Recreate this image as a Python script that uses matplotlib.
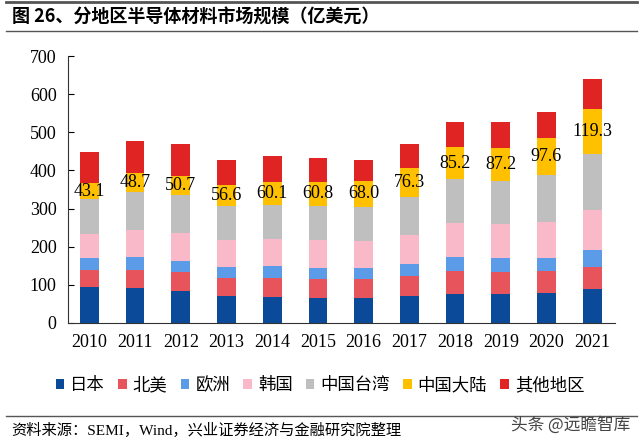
import matplotlib.pyplot as plt
import numpy as np

plt.rcParams['font.family'] = ['Liberation Serif', 'Noto Sans CJK SC']

years = ['2010', '2011', '2012', '2013', '2014', '2015', '2016', '2017', '2018', '2019', '2020', '2021']
regions = ['日本', '北美', '欧洲', '韩国', '中国台湾', '中国大陆', '其他地区']
colors = ['#0b4a98', '#e8545c', '#5b9be8', '#f9b9c9', '#bfbfbf', '#ffc000', '#e02424']

japan  = [94, 91, 84, 70, 68, 65, 66, 70, 77, 75, 79, 88]
na     = [44, 49, 49, 47, 51, 50, 49, 52, 58, 58, 56, 59]
europe = [33, 33, 30, 30, 30, 30, 30, 33, 38, 38, 36, 45]
korea  = [63, 72, 73, 70, 71, 72, 70, 75, 89, 89, 93, 105]
taiwan = [90, 99, 100, 89, 90, 91, 90, 100, 115, 112, 123, 146]
china  = [43.1, 48.7, 50.7, 56.6, 60.1, 60.8, 68.0, 76.3, 85.2, 87.2, 97.6, 119.3]
other  = [81, 85, 84, 66, 69, 63, 54, 63, 65, 68, 68, 78]

series = [japan, na, europe, korea, taiwan, china, other]

fig = plt.figure(figsize=(6.4, 4.46), dpi=100)
ax = fig.add_axes([0.106, 0.276, 0.855, 0.598])

x = np.arange(len(years))
bottom = np.zeros(len(years))
for name, vals, c in zip(regions, series, colors):
    ax.bar(x, vals, width=0.41, bottom=bottom, color=c, label=name)
    if name == '中国大陆':
        for xi, b, v in zip(x, bottom, vals):
            ax.text(xi, b + v / 2, '%.1f' % v, ha='center', va='center', fontsize=13)
    bottom += np.array(vals)

ax.set_xlim(-0.47, 11.5)
ax.set_ylim(0, 700)
ax.set_yticks(range(0, 701, 100))
ax.set_xticks(x)
ax.set_xticklabels(years, fontsize=13)
ax.tick_params(axis='y', direction='in', length=4, labelsize=13, pad=8)
ax.tick_params(axis='x', length=0, pad=8)
for s in ['top', 'right']:
    ax.spines[s].set_visible(False)
ax.spines['left'].set_color('#333333')
ax.spines['bottom'].set_color('#333333')

leg = fig.legend(loc='center', bbox_to_anchor=(0.50, 0.137), ncol=7, frameon=False,
                 handlelength=0.5, handleheight=0.5, handletextpad=0.35, columnspacing=0.75,
                 prop={'family': 'Noto Sans CJK SC', 'size': 12.5})

# title and rules
fig.add_artist(plt.Line2D([0.01, 0.995], [0.995, 0.995], color='#555555', lw=2))
fig.text(0.018, 0.962, '图 26、分地区半导体材料市场规模（亿美元）', fontsize=13,
         fontweight='bold', family='Noto Sans CJK SC', va='center')
fig.add_artist(plt.Line2D([0.01, 0.995], [0.93, 0.93], color='#555555', lw=1))
fig.add_artist(plt.Line2D([0.01, 0.995], [0.067, 0.067], color='#555555', lw=1))
fig.text(0.018, 0.036, '资料来源：SEMI，Wind，兴业证券经济与金融研究院整理', fontsize=11,
         va='center', family=['Liberation Serif', 'Noto Sans CJK SC'])
fig.text(0.985, 0.047, '头条 @远瞻智库', fontsize=12, color='#444444', ha='right',
         va='center', family='Noto Sans CJK SC')

plt.savefig('out.png', dpi=100)
